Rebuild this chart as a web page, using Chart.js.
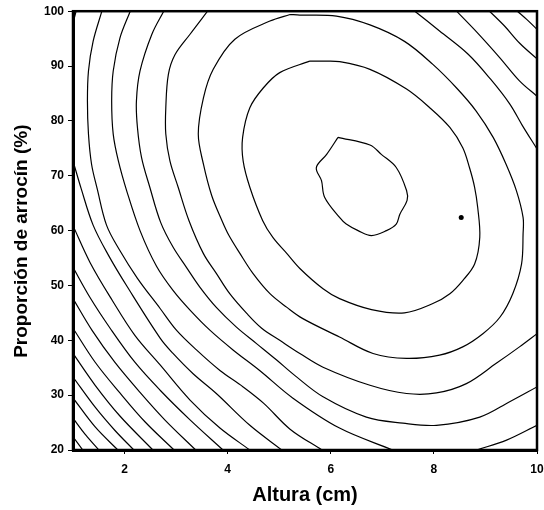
<!DOCTYPE html>
<html>
<head>
<meta charset="utf-8">
<script src="https://cdn.jsdelivr.net/npm/chart.js@4.4.1/dist/chart.umd.min.js"></script>
<style>
  body { margin: 0; background: #fff; }
  canvas { display: block; }
</style>
</head>
<body>
<canvas id="myChart" width="544" height="510"></canvas>
<script>
// contour lines, as [altura, proporcion] pairs
const contour1 = [[6.14,77.0],[6.76,75.6],[6.98,73.9],[7.27,71.5],[7.47,67.3],[7.48,65.5],[7.34,63.0],[7.27,61.2],[7.08,60.0],[6.79,59.1],[6.53,60.0],[6.30,61.2],[6.17,62.4],[5.88,66.1],[5.82,69.1],[5.72,71.5],[5.92,73.9],[6.14,77.0]];
const contour2 = [[5.59,90.9],[5.01,88.8],[4.69,86.0],[4.43,82.4],[4.29,77.0],[4.30,72.7],[4.43,67.9],[4.68,61.8],[4.88,58.7],[5.15,55.8],[5.40,53.1],[5.85,49.4],[6.17,47.6],[6.79,45.6],[7.43,45.0],[7.98,46.7],[8.31,48.5],[8.56,50.9],[8.79,53.9],[8.89,58.8],[8.85,64.2],[8.79,67.9],[8.69,71.5],[8.56,75.1],[8.31,78.8],[7.92,82.4],[7.47,85.8],[6.76,89.4],[6.17,90.8],[5.85,90.9],[5.59,90.9]];
const contour3 = [[5.21,99.4],[4.82,98.2],[4.14,94.9],[3.72,89.4],[3.53,84.2],[3.43,77.6],[3.53,72.1],[3.69,66.4],[3.89,61.8],[4.02,59.2],[4.24,55.8],[4.49,52.2],[4.82,48.5],[5.15,46.0],[5.45,44.0],[6.17,40.6],[6.82,37.6],[7.47,36.7],[8.11,37.3],[8.56,38.8],[8.95,41.2],[9.28,44.2],[9.53,48.5],[9.70,53.9],[9.73,59.4],[9.73,62.4],[9.60,67.3],[9.40,72.1],[9.15,77.0],[8.82,81.8],[8.44,86.0],[7.98,90.3],[7.43,94.5],[6.76,97.5],[6.11,99.1],[5.40,99.3],[5.21,99.4]];
const contour4 = [[3.61,100],[3.27,95.8],[2.98,92.1],[2.85,88.5],[2.80,82.4],[2.80,77.6],[2.88,72.7],[3.04,67.9],[3.25,61.8],[3.53,55.8],[3.78,52.2],[4.04,48.5],[4.37,44.9],[4.66,42.2],[5.01,40.0],[5.40,37.6],[5.85,35.1],[6.76,31.8],[7.47,30.3],[8.05,30.4],[8.63,32.1],[9.21,35.8],[9.66,38.8],[10,41.2]];
const contour4b = [[7.63,100],[8.11,96.4],[8.66,92.2],[9.10,87.6],[9.47,83.1],[9.72,79.1],[10,74.9]];
const contour5 = [[2.76,100],[2.53,95.8],[2.30,89.1],[2.23,83.6],[2.25,78.8],[2.33,73.3],[2.49,67.9],[2.70,61.5],[2.94,57.0],[3.20,53.3],[3.46,49.7],[3.78,46.0],[4.17,42.4],[4.56,39.4],[4.95,36.4],[5.30,33.6],[5.85,29.7],[6.69,26.0],[7.40,24.9],[8.05,24.5],[8.89,26.0],[9.47,28.8],[10,31.5]];
const contour5b = [[8.44,100],[8.85,96.0],[9.28,91.5],[9.66,87.3],[10,84.5]];
const contour6 = [[2.11,100],[1.91,95.1],[1.78,89.1],[1.75,83.6],[1.78,77.6],[1.88,72.7],[2.04,67.3],[2.30,60.0],[2.62,53.5],[2.94,49.1],[3.27,45.5],[3.66,41.8],[4.11,38.2],[4.62,34.5],[5.26,29.5],[6.17,24.0],[7.20,20]];
const contour6b = [[9.08,100],[9.37,97.3],[9.66,94.2],[10,91.3]];
const contour6c = [[8.83,20],[9.41,21.8],[10,24.5]];
const contour7 = [[1.56,100],[1.39,94.5],[1.30,89.1],[1.28,83.6],[1.30,77.6],[1.36,72.1],[1.47,67.6],[1.65,61.0],[1.90,56.5],[2.25,51.3],[2.69,45.8],[3.01,41.8],[3.40,38.2],[3.85,34.5],[4.30,31.5],[4.70,28.5],[5.21,23.8],[5.83,20]];
const contour7b = [[9.62,100],[9.80,98.5],[10,96.7]];
const contour8 = [[1,72.7],[1.16,67.6],[1.39,61.0],[1.70,55.3],[2.05,49.8],[2.69,40.4],[2.94,37.6],[3.33,33.9],[3.78,30.3],[4.43,24.5],[5.05,20]];
const contour8b = [[1.06,100],[1.02,98.5],[1,97.0]];
const contour9 = [[1,60.9],[1.33,54.2],[1.76,47.3],[2.20,40.9],[2.69,35.5],[3.27,29.1],[3.85,24.0],[4.43,20]];
const contour10 = [[1,53.3],[1.33,47.8],[1.72,42.2],[2.20,36.0],[2.69,30.9],[3.27,25.5],[3.91,20]];
const contour11 = [[1,47.6],[1.37,41.8],[1.81,36.0],[2.30,30.5],[2.78,25.5],[3.38,20]];
const contour12 = [[1,42.2],[1.43,36.0],[1.91,30.4],[2.40,25.1],[2.96,20]];
const contour13 = [[1,37.6],[1.43,31.8],[1.91,26.2],[2.55,20]];
const contour14 = [[1,33.3],[1.43,27.8],[1.81,23.6],[2.18,20]];
const contour15 = [[1,29.5],[1.43,24.2],[1.87,20]];
const contour16 = [[1,25.8],[1.25,22.7],[1.50,20]];
const contour17 = [[1,22.4],[1.19,20]];
const marker = [[8.53,62.4]];

const xTicks = [2, 4, 6, 8, 10];
const yTicks = [20, 30, 40, 50, 60, 70, 80, 90, 100];

const contours = [contour1, contour2, contour3, contour4, contour4b, contour5, contour5b,
  contour6, contour6b, contour6c, contour7, contour7b, contour8, contour8b, contour9,
  contour10, contour11, contour12, contour13, contour14, contour15, contour16, contour17];

const FONT = "'Liberation Sans', Arial, sans-serif";

const datasets = contours.map((c) => ({
  data: c.map(([x, y]) => ({ x: x, y: y })),
  showLine: true,
  borderColor: "#000",
  borderWidth: 1.2,
  pointRadius: 0,
  tension: 0.35,
  fill: false,
}));
datasets.push({
  data: marker.map(([x, y]) => ({ x: x, y: y })),
  showLine: false,
  pointRadius: 2.5,
  pointBackgroundColor: "#000",
  pointBorderWidth: 0,
});

// box round the plot area
const frame = {
  id: "frame",
  afterDraw(chart) {
    const { ctx, chartArea: a } = chart;
    ctx.save();
    ctx.strokeStyle = "#000";
    ctx.lineWidth = 2.5;
    ctx.strokeRect(a.left, a.top, a.right - a.left, a.bottom - a.top);
    ctx.restore();
  },
};

var ctx = document.getElementById("myChart").getContext("2d");
var myChart = new Chart(ctx, {
  type: "scatter",
  data: { datasets: datasets },
  plugins: [frame],
  options: {
    responsive: false,
    animation: false,
    layout: { padding: { top: 10, right: 0, left: 0, bottom: 0 } },
    plugins: { legend: { display: false }, tooltip: { enabled: false } },
    scales: {
      x: {
        type: "linear",
        min: 1,
        max: 10,
        afterBuildTicks: (s) => { s.ticks = xTicks.map((v) => ({ value: v })); },
        afterFit: (s) => { s.height = 60; s.paddingLeft = 0; s.paddingRight = 7; },
        grid: { drawOnChartArea: false, drawTicks: true, tickLength: 4, color: "#000" },
        border: { display: true, color: "#000", width: 3 },
        ticks: { color: "#000", padding: 8, maxRotation: 0, font: { family: FONT, size: 12, weight: "bold" } },
        title: {
          display: true,
          text: "Altura (cm)",
          color: "#000",
          padding: { top: 0, bottom: 3 },
          font: { family: FONT, size: 20, weight: "bold" },
        },
      },
      y: {
        type: "linear",
        min: 20,
        max: 100,
        afterBuildTicks: (s) => { s.ticks = yTicks.map((v) => ({ value: v })); },
        afterFit: (s) => { s.width = 73; },
        grid: { drawOnChartArea: false, drawTicks: true, tickLength: 5, color: "#000" },
        border: { display: true, color: "#000", width: 3 },
        ticks: { color: "#000", padding: 4, font: { family: FONT, size: 12, weight: "bold" } },
        title: {
          display: true,
          text: "Proporción de arrocín (%)    ",
          color: "#000",
          padding: { top: 10, bottom: 0 },
          font: { family: FONT, size: 19, weight: "bold" },
        },
      },
    },
  },
});
</script>
</body>
</html>
